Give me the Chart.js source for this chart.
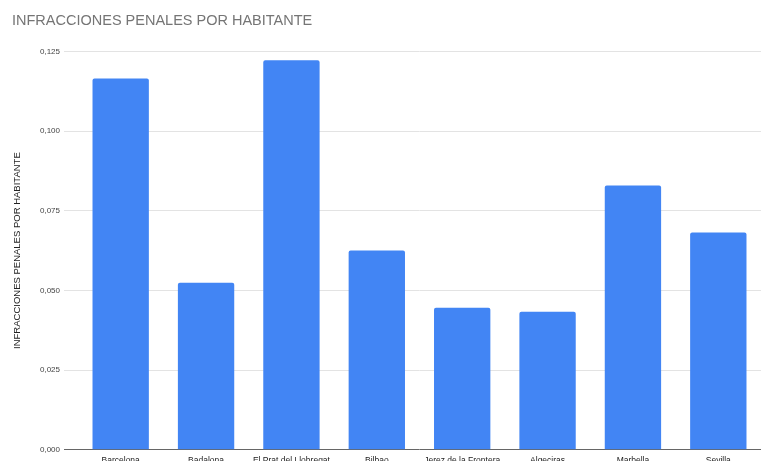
<!DOCTYPE html>
<html>
<head>
<meta charset="utf-8">
<script src="https://cdn.jsdelivr.net/npm/chart.js@4/dist/chart.umd.min.js"></script>
<style>
    html, body { margin: 0; padding: 0; background: #fff; overflow: hidden; }
    #wrap { position: relative; width: 766px; height: 472px; }
</style>
</head>
<body>
<div id="wrap"><canvas id="chart"></canvas></div>
<script>
// Data
const cities = ['Barcelona', 'Badalona', 'El Prat del Llobregat', 'Bilbao', 'Jerez de la Frontera', 'Algeciras', 'Marbella', 'Sevilla'];
const offencesPerInhabitant = [0.1165, 0.0524, 0.1222, 0.0625, 0.0446, 0.0433, 0.0829, 0.0682];
const yTicks = [0, 0.025, 0.05, 0.075, 0.1, 0.125];

const fontFamily = 'Arial, "Liberation Sans", sans-serif';

const ctx = document.getElementById('chart').getContext('2d');
new Chart(ctx, {
    type: 'bar',
    data: {
        labels: cities,
        datasets: [{
            data: offencesPerInhabitant,
            backgroundColor: '#4285F4',
            borderRadius: 2,
            borderSkipped: 'bottom',
            categoryPercentage: 1,
            barPercentage: 0.66
        }]
    },
    options: {
        responsive: true,
        maintainAspectRatio: false,
        animation: false,
        layout: { padding: { left: 12, right: 5, top: 0, bottom: 0 } },
        plugins: {
            legend: { display: false },
            tooltip: { enabled: false },
            title: {
                display: true,
                text: 'INFRACCIONES PENALES POR HABITANTE',
                align: 'start',
                color: '#757575',
                font: { family: fontFamily, size: 14.5, weight: 'normal' },
                padding: { top: 12, bottom: 22 }
            }
        },
        scales: {
            x: {
                grid: { display: false, drawTicks: false, tickLength: 0 },
                border: { display: false },
                ticks: {
                    color: '#222',
                    font: { family: fontFamily, size: 8.5 },
                    padding: 6,
                    maxRotation: 0,
                    autoSkip: false
                }
            },
            y: {
                min: 0,
                max: 0.125,
                afterBuildTicks: (scale) => {
                    scale.ticks = yTicks.map(v => ({ value: v }));
                },
                afterFit: (scale) => { scale.width = 66; },
                border: { display: false },
                grid: {
                    color: (c) => c.tick && c.tick.value === 0 ? '#666' : '#e3e3e3',
                    tickLength: 14
                },
                ticks: {
                    color: '#444',
                    font: { family: fontFamily, size: 8 },
                    padding: 4,
                    callback: (v) => v.toFixed(3).replace('.', ',')
                },
                title: {
                    display: true,
                    text: 'INFRACCIONES PENALES POR HABITANTE',
                    color: '#222',
                    font: { family: fontFamily, size: 9.5 },
                    padding: { top: 0, bottom: 4 }
                }
            }
        }
    }
});
</script>
</body>
</html>
